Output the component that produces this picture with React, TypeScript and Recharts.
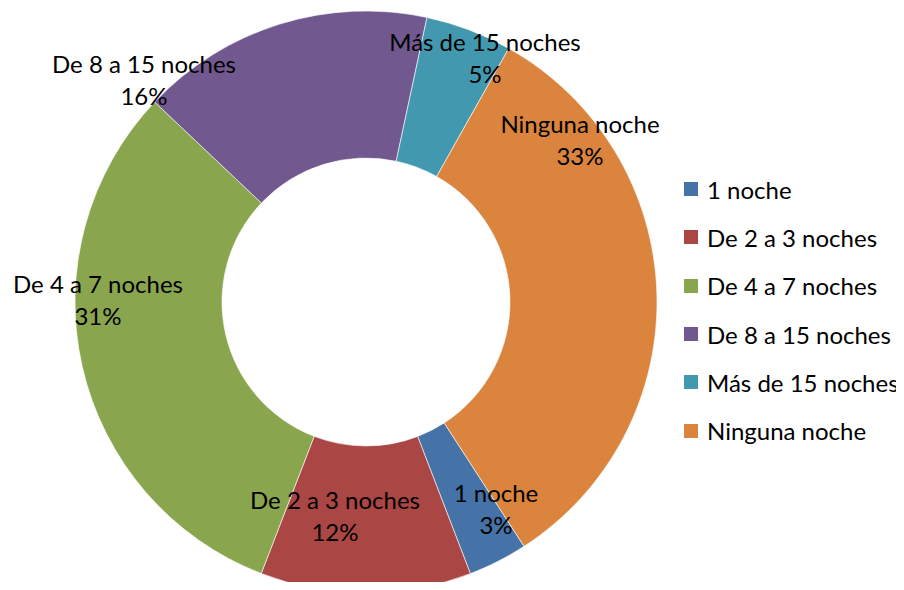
import { PieChart, Pie, Legend } from "recharts";

const categories = [
  "1 noche",
  "De 2 a 3 noches",
  "De 4 a 7 noches",
  "De 8 a 15 noches",
  "Más de 15 noches",
  "Ninguna noche",
];

// share of respondents (%)
const shares = [3.3, 11.7, 31.2, 16.3, 4.8, 32.7];

const colors = ["#4572A7", "#AA4643", "#89A54E", "#71588F", "#4198AF", "#DB843D"];

// where Excel left each data label, relative to the ring centre (first baseline)
const labelOffsets: [number, number][] = [
  [130, 200],
  [-31, 207],
  [-268, -9],
  [-222, -229],
  [119, -251],
  [214, -169],
];

const FONT = "Lato, 'Open Sans', sans-serif";
const FONT_SIZE = 24;
const LINE_GAP = 32;

const data = categories.map((name, i) => ({ name, value: shares[i], fill: colors[i] }));

function renderLabel(props: any) {
  const { cx, cy, index, percent, name } = props;
  const [dx, dy] = labelOffsets[index];
  const x = cx + dx;
  const y = cy + dy;
  return (
    <text x={x} y={y} textAnchor="middle" fill="#000" fontFamily={FONT} fontSize={FONT_SIZE}>
      <tspan x={x} y={y}>
        {name}
      </tspan>
      <tspan x={x} y={y + LINE_GAP}>
        {`${Math.round(percent * 100)}%`}
      </tspan>
    </text>
  );
}

function renderLegend(props: any) {
  const { payload = [] } = props;
  return (
    <div style={{ fontFamily: FONT, fontSize: FONT_SIZE, color: "#000", whiteSpace: "nowrap" }}>
      {payload.map((p: any) => (
        <div key={p.value} style={{ display: "flex", alignItems: "center", height: 48.3 }}>
          <span
            style={{
              display: "inline-block",
              width: 14,
              height: 14,
              background: p.color,
              marginRight: 9,
              flexShrink: 0,
            }}
          />
          <span>{p.value}</span>
        </div>
      ))}
    </div>
  );
}

export default function App() {
  return (
    <div style={{ margin: -8, width: 904, height: 590, background: "#fff" }}>
      <PieChart width={904} height={590} margin={{ top: 0, right: 0, bottom: 0, left: 0 }}>
        <Pie
          data={data}
          dataKey="value"
          nameKey="name"
          cx={366}
          cy={302}
          innerRadius={144}
          outerRadius={291}
          startAngle={-57.1}
          endAngle={-417.1}
          stroke="#ffffff"
          strokeWidth={0.6}
          label={renderLabel}
          labelLine={false}
          isAnimationActive={false}
        />
        <Legend
          content={renderLegend}
          wrapperStyle={{ left: 684, top: 165, width: 220, right: "auto", bottom: "auto" }}
        />
      </PieChart>
    </div>
  );
}
